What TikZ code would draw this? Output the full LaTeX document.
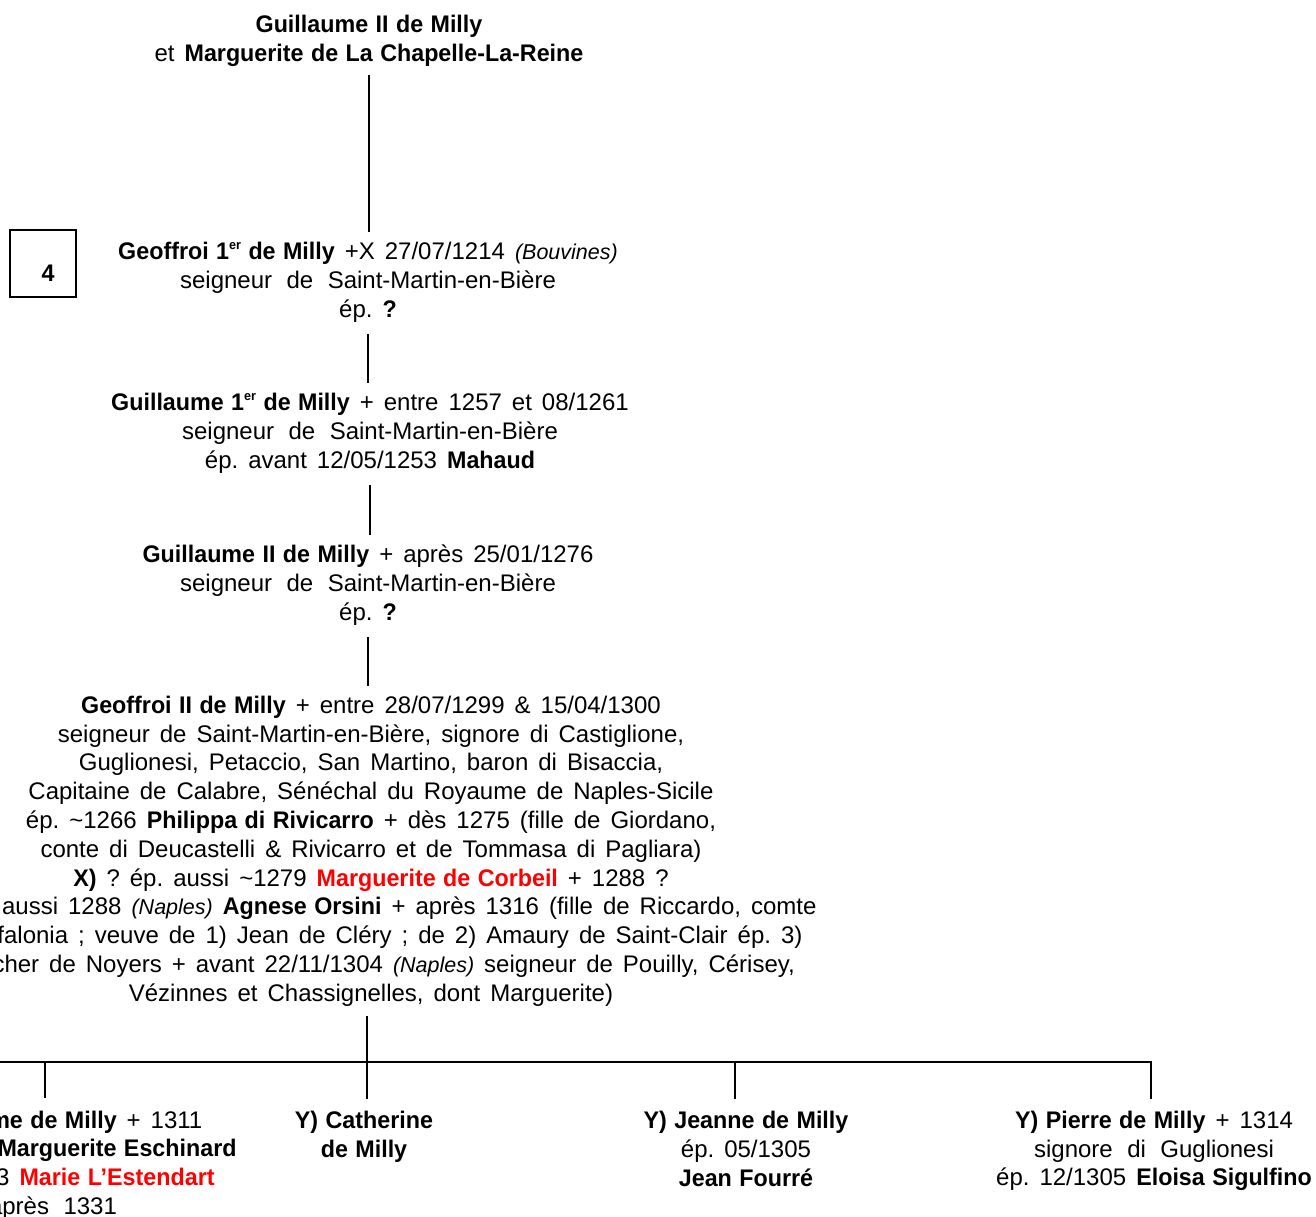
\documentclass[tikz,border=0pt]{standalone}
\usepackage{fontspec}
\setmainfont{Liberation Sans}[WordSpace=1.5, BoldFeatures={FakeStretch=0.97, WordSpace=1.15}]
\definecolor{marked}{RGB}{255, 0, 0}
\usepackage{tikz}
\usepackage{xcolor}
\usetikzlibrary{positioning}
\frenchspacing
\newcommand{\marked}[1]{\textcolor{marked}{\textbf{#1}}}
\newcommand{\lieu}[1]{{\fontsize{21.5}{28.8}\selectfont\itshape (#1)}}
\newcommand{\ier}{\raisebox{10pt}{\fontsize{13}{13}\selectfont er}}
\newcommand{\wide}{\hspace{14.5pt}}

\begin{document}
\begin{tikzpicture}[x=1pt, y=-1pt,
                person/.style={align=center, inner sep=0pt, font=\fontsize{24}{28.8}\selectfont},
                link/.style={line width=2pt}]
                \useasboundingbox (0,0) rectangle (1316,1217);
                \node[person] (top) at (369,41) {
                    \textbf{Guillaume II de Milly}\\
                    et \textbf{Marguerite de La Chapelle-La-Reine}
                };
                \node[draw, line width=1.2pt, minimum width=66pt, minimum height=67pt, inner sep=0pt,
                      text height=35pt, text depth=0pt, font=\fontsize{24}{28.8}\selectfont\bfseries] (num) at (43,263.5) {\hspace*{10pt}4};
                \node[person] (g1) at (368,282) {
                    \textbf{Geoffroi 1\ier{} de Milly} +X 27/07/1214 \lieu{Bouvines}\\
                    seigneur\wide de\wide Saint-Martin-en-Bière\\
                    ép. \textbf{?}
                };
                \node[person] (gu1) at (370,433) {
                    \textbf{Guillaume 1\ier{} de Milly} + entre 1257 et 08/1261\\
                    seigneur\wide de\wide Saint-Martin-en-Bière\\
                    ép. avant 12/05/1253 \textbf{Mahaud}
                };
                \node[person] (gu2) at (368,585) {
                    \textbf{Guillaume II de Milly} + après 25/01/1276\\
                    seigneur\wide de\wide Saint-Martin-en-Bière\\
                    ép. \textbf{?}
                };
                \node[person] (g2) at (371,851) {
                    \textbf{Geoffroi II de Milly} + entre 28/07/1299 \& 15/04/1300\\
                    seigneur de Saint-Martin-en-Bière, signore di Castiglione,\\
                    Guglionesi, Petaccio, San Martino, baron di Bisaccia,\\
                    Capitaine de Calabre, Sénéchal du Royaume de Naples-Sicile\\
                    ép. \textasciitilde1266 \textbf{Philippa di Rivicarro} + dès 1275 (fille de Giordano,\\
                    conte di Deucastelli \& Rivicarro et de Tommasa di Pagliara)\\
                    \textbf{X)} ? ép. aussi \textasciitilde1279 \marked{Marguerite de Corbeil} + 1288 ?\\
                    \textbf{Y)} ép. aussi 1288 \lieu{Naples} \textbf{Agnese Orsini} + après 1316 (fille de Riccardo, comte\\
                    di Kefalonia ; veuve de 1) Jean de Cléry ; de 2) Amaury de Saint-Clair ép. 3)\\
                    Gaucher de Noyers + avant 22/11/1304 \lieu{Naples} seigneur de Pouilly, Cérisey,\\
                    Vézinnes et Chassignelles, dont Marguerite)
                };
                \node[person] (c1) at (41,1165) {
                    \textbf{X) Guillaume de Milly} + 1311\\
                    ép. 1) \textasciitilde1305 \textbf{Marguerite Eschinard}\\
                    ép. 2) \textasciitilde1313 \marked{Marie L’Estendart}\\
                    + après\wide 1331
                };
                \node[person] (c2) at (364,1137) {
                    \textbf{Y) Catherine}\\
                    \textbf{de Milly}
                };
                \node[person] (c3) at (746,1149) {
                    \textbf{Y) Jeanne de Milly}\\
                    ép. 05/1305\\
                    \textbf{Jean Fourré}
                };
                \node[person] (c4) at (1154,1151) {
                    \textbf{Y) Pierre de Milly} + 1314\\
                    signore\wide di\wide Guglionesi\\
                    ép. 12/1305 \textbf{Eloisa Sigulfino}
                };
                \coordinate (west) at (-20,1062);
                \coordinate (d1) at (45,1062);
                \coordinate (d2) at (367,1062);
                \coordinate (d3) at (735,1062);
                \coordinate (d4) at (1151,1062);
                \draw[link] ([yshift=-8pt]top.south) -- ([yshift=10pt]top.south |- g1.north);
                \draw[link] ([yshift=-12pt]g1.south) -- ([yshift=10pt]g1.south |- gu1.north);
                \draw[link] ([yshift=-12pt]gu1.south) -- ([yshift=10pt]gu1.south |- gu2.north);
                \draw[link] ([yshift=-12pt]gu2.south) -- ([yshift=10pt]gu2.south |- g2.north);
                \draw[link] ([yshift=-10pt]g2.south -| d2) -- (d2);
                \draw[link] (west) -- (d4) -- ([yshift=12pt]d4 |- c4.north);
                \foreach \d/\c in {d1/c1, d2/c2, d3/c3}
                    \draw[link] (\d) -- ([yshift=12pt]\d |- \c.north);
            \end{tikzpicture}
\end{document}
